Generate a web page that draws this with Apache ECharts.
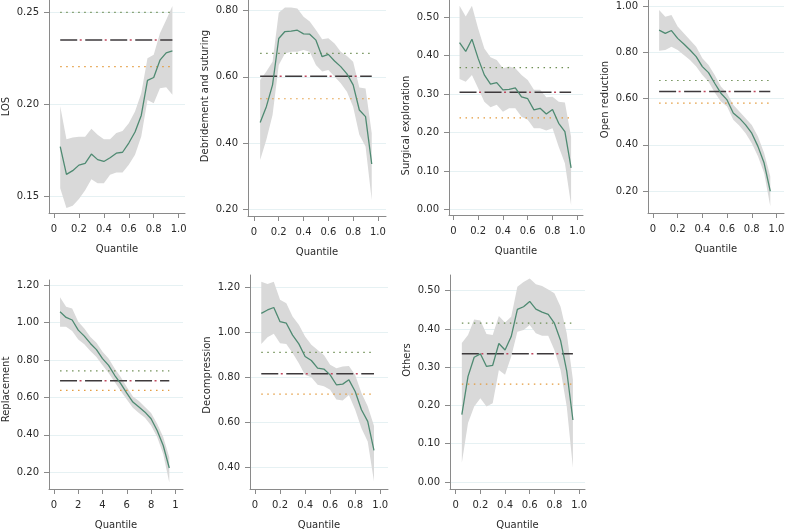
<!DOCTYPE html>
<html><head><meta charset="utf-8">
<script src="https://cdn.jsdelivr.net/npm/echarts@6/dist/echarts.min.js"></script>
<style>html,body{margin:0;padding:0;background:#fff}#c{width:788px;height:531px}</style>
</head><body><div id="c"></div>
<script>
// ---------- DATA ----------
const quantiles = [0.05,0.10,0.15,0.20,0.25,0.30,0.35,0.40,0.45,0.50,0.55,0.60,0.65,0.70,0.75,0.80,0.85,0.90,0.95];
const xTicks = [0,0.2,0.4,0.6,0.8,1.0];
const xTickLabels = ['0','0.2','0.4','0.6','0.8','1.0'];
const xTickLabelsReplacement = ['0','2','4','6','8','1'];
const panelNames = ['LOS','Debridement and suturing','Surgical exploration','Open reduction','Replacement','Decompression','Others'];

const losEst = [0.177,0.162,0.164,0.167,0.168,0.173,0.170,0.169,0.171,0.1735,0.174,0.179,0.185,0.194,0.213,0.2146,0.224,0.228,0.229];
const losHi  = [0.199,0.181,0.182,0.1824,0.1824,0.1867,0.1835,0.1811,0.1811,0.1844,0.1856,0.1898,0.1961,0.2061,0.225,0.2269,0.2386,0.2458,0.2534];
const losLo  = [0.1545,0.1437,0.1449,0.1486,0.1533,0.1594,0.1572,0.1572,0.1618,0.163,0.163,0.1672,0.1726,0.1825,0.2024,0.2006,0.2088,0.2093,0.2052];
const losRef = [0.250,0.235,0.2205];
const losTicks = [0.15,0.20,0.25];

const debEst = [0.462,0.51,0.576,0.716,0.737,0.738,0.741,0.73,0.729,0.711,0.661,0.668,0.648,0.631,0.609,0.576,0.50,0.48,0.337];
const debHi  = [0.591,0.616,0.646,0.794,0.81,0.81,0.807,0.782,0.767,0.742,0.714,0.717,0.701,0.676,0.663,0.646,0.568,0.565,0.43];
const debLo  = [0.349,0.41,0.485,0.636,0.671,0.676,0.676,0.681,0.676,0.636,0.616,0.621,0.601,0.581,0.555,0.51,0.425,0.39,0.228];
const debRef = [0.671,0.602,0.534];
const debTicks = [0.20,0.40,0.60,0.80];

const surEst = [0.434,0.411,0.443,0.393,0.35,0.326,0.33,0.311,0.3125,0.316,0.293,0.288,0.259,0.263,0.248,0.26,0.224,0.202,0.108];
const surHi  = [0.53,0.502,0.53,0.471,0.419,0.396,0.389,0.367,0.372,0.367,0.35,0.337,0.311,0.311,0.292,0.293,0.28,0.278,0.189];
const surLo  = [0.339,0.332,0.35,0.315,0.28,0.266,0.272,0.254,0.263,0.263,0.241,0.233,0.211,0.211,0.205,0.211,0.163,0.12,0.011];
const surRef = [0.369,0.305,0.238];
const surTicks = [0.00,0.10,0.20,0.30,0.40,0.50];

const opnEst = [0.896,0.882,0.894,0.86,0.836,0.81,0.781,0.738,0.712,0.666,0.623,0.594,0.537,0.515,0.486,0.45,0.393,0.321,0.199];
const opnHi  = [0.983,0.954,0.961,0.911,0.882,0.853,0.824,0.774,0.745,0.702,0.652,0.623,0.573,0.544,0.515,0.486,0.436,0.364,0.263];
const opnLo  = [0.807,0.81,0.824,0.81,0.788,0.767,0.738,0.702,0.673,0.626,0.587,0.565,0.508,0.482,0.45,0.407,0.35,0.278,0.134];
const opnRef = [0.678,0.630,0.580];
const opnTicks = [0.20,0.40,0.60,0.80,1.00];

const repEst = [1.057,1.027,1.013,0.959,0.927,0.888,0.855,0.807,0.771,0.718,0.673,0.623,0.575,0.548,0.521,0.486,0.423,0.343,0.223];
const repHi  = [1.134,1.084,1.075,1.004,0.968,0.923,0.891,0.843,0.807,0.754,0.709,0.655,0.605,0.58,0.548,0.516,0.459,0.388,0.28];
const repLo  = [0.977,0.977,0.955,0.909,0.884,0.848,0.816,0.771,0.73,0.682,0.634,0.588,0.545,0.516,0.491,0.45,0.388,0.298,0.146];
const repRef = [0.741,0.689,0.6375];
const repTicks = [0.20,0.40,0.60,0.80,1.00,1.20];

const decEst = [1.084,1.099,1.110,1.047,1.04,0.987,0.948,0.892,0.874,0.84,0.836,0.81,0.766,0.769,0.788,0.736,0.655,0.603,0.474];
const decHi  = [1.225,1.215,1.225,1.144,1.129,1.07,1.033,0.981,0.944,0.921,0.899,0.855,0.84,0.847,0.85,0.81,0.729,0.67,0.584];
const decLo  = [0.948,0.978,0.993,0.951,0.948,0.907,0.862,0.81,0.80,0.766,0.759,0.744,0.70,0.696,0.721,0.655,0.573,0.514,0.336];
const decRef = [0.910,0.815,0.724];
const decTicks = [0.40,0.60,0.80,1.00,1.20];

const othEst = [0.176,0.276,0.326,0.335,0.302,0.305,0.362,0.345,0.380,0.451,0.458,0.472,0.452,0.444,0.438,0.415,0.370,0.290,0.162];
const othHi  = [0.363,0.384,0.425,0.422,0.387,0.384,0.434,0.417,0.432,0.51,0.523,0.532,0.517,0.512,0.503,0.493,0.458,0.389,0.267];
const othLo  = [0.05,0.154,0.197,0.219,0.197,0.206,0.293,0.28,0.328,0.393,0.397,0.41,0.389,0.382,0.382,0.345,0.293,0.197,0.037];
const othRef = [0.415,0.335,0.256];
const othTicks = [0.00,0.10,0.20,0.30,0.40,0.50];

// ---------- LAYOUT ----------
// nameShift: vertical shift of the y-axis title (positive = up)
const panels = [
  {est:losEst,hi:losHi,lo:losLo,ref:losRef,yt:losTicks,xl:xTickLabels,nameShift:0,
   g:{left:49,top:0,width:136,height:213}, y:[0.141,0.2567], x:[-0.040,1.051]},
  {est:debEst,hi:debHi,lo:debLo,ref:debRef,yt:debTicks,xl:xTickLabels,nameShift:12,
   g:{left:248,top:0,width:138,height:216}, y:[0.1798,0.8323], x:[-0.048,1.065]},
  {est:surEst,hi:surHi,lo:surLo,ref:surRef,yt:surTicks,xl:xTickLabels,nameShift:-18,
   g:{left:449,top:0,width:134,height:215}, y:[-0.0148,0.545], x:[-0.035,1.046]},
  {est:opnEst,hi:opnHi,lo:opnLo,ref:opnRef,yt:opnTicks,xl:xTickLabels,nameShift:7,
   g:{left:648,top:0,width:136,height:213}, y:[0.105,1.026], x:[-0.040,1.061]},
  {est:repEst,hi:repHi,lo:repLo,ref:repRef,yt:repTicks,xl:xTickLabelsReplacement,nameShift:-5,
   g:{left:49,top:280,width:134,height:209}, y:[0.1107,1.2267], x:[-0.041,1.063]},
  {est:decEst,hi:decHi,lo:decLo,ref:decRef,yt:decTicks,xl:xTickLabels,nameShift:7,
   g:{left:250,top:275,width:138,height:214}, y:[0.302,1.2547], x:[-0.040,1.062]},
  {est:othEst,hi:othHi,lo:othLo,ref:othRef,yt:othTicks,xl:xTickLabels,nameShift:22,
   g:{left:450,top:275,width:135,height:214}, y:[-0.0183,0.541], x:[-0.046,1.048]}
];

const FONT = 'DejaVu Sans';
const TXT = '#2a2a2a';
const AX = '#8a8a8a';
const grids = [], xAxes = [], yAxes = [], series = [];

panels.forEach((p, i) => {
  grids.push(Object.assign({containLabel:false}, p.g));
  const labs = p.xl;
  xAxes.push({
    type:'value', gridIndex:i, min:p.x[0], max:p.x[1],
    name:'Quantile', nameLocation:'middle', nameGap:31,
    nameTextStyle:{fontFamily:FONT,fontSize:10,color:TXT},
    axisLine:{show:true,onZero:false,lineStyle:{color:AX,width:1}},
    axisTick:{show:true,length:5,lineStyle:{color:AX},customValues:xTicks},
    axisLabel:{fontFamily:FONT,fontSize:10,color:TXT,margin:11,customValues:xTicks,
      formatter:(v)=>{const k=xTicks.findIndex(t=>Math.abs(t-v)<1e-6);return k>=0?labs[k]:'';}},
    splitLine:{show:false}
  });
  const yt = p.yt;
  const s = p.nameShift;
  yAxes.push({
    type:'value', gridIndex:i, min:p.y[0], max:p.y[1],
    name:panelNames[i], nameLocation:'middle', nameGap:38,
    nameTextStyle:{fontFamily:FONT,fontSize:10,color:TXT,
      padding: s>=0 ? [0,0,0,2*s] : [0,-2*s,0,0]},
    axisLine:{show:true,onZero:false,lineStyle:{color:AX,width:1}},
    axisTick:{show:true,length:5,lineStyle:{color:AX},customValues:yt},
    axisLabel:{fontFamily:FONT,fontSize:10,color:TXT,margin:10,customValues:yt,
      formatter:(v)=>v.toFixed(2)},
    splitLine:{show:true,lineStyle:{color:'#e6f1f3',width:1}}
  });
  const bandData = quantiles.map((q,k)=>[q,p.lo[k],p.hi[k]]);
  series.push({
    type:'custom', xAxisIndex:i, yAxisIndex:i, data:bandData, silent:true, z:1,
    renderItem:(params, api)=>{
      if (params.dataIndex !== 0) return null;
      const up = bandData.map(d=>api.coord([d[0],d[2]]));
      const dn = bandData.map(d=>api.coord([d[0],d[1]])).reverse();
      return {type:'polygon', shape:{points:up.concat(dn)}, style:{fill:'#d9d9d9',stroke:null}};
    }
  });
  series.push({
    type:'line', xAxisIndex:i, yAxisIndex:i, z:5, symbol:'none', silent:true,
    data:quantiles.map((q,k)=>[q,p.est[k]]),
    lineStyle:{color:'#4f8a72',width:1.3}
  });
  const x0 = quantiles[0], x1 = quantiles[quantiles.length-1];
  series.push({type:'line',xAxisIndex:i,yAxisIndex:i,z:4,symbol:'none',silent:true,
    data:[[x0,p.ref[0]],[x1,p.ref[0]]], lineStyle:{color:'#6f8f55',width:1.2,type:[1.5,4.5]}});
  series.push({type:'line',xAxisIndex:i,yAxisIndex:i,z:4,symbol:'none',silent:true,
    data:[[x0,p.ref[1]],[x1,p.ref[1]]], lineStyle:{color:'#3e3a3c',width:1.5,type:[17,8]}});
  series.push({type:'line',xAxisIndex:i,yAxisIndex:i,z:4,symbol:'none',silent:true,
    data:[[x0,p.ref[1]],[x1,p.ref[1]]], lineStyle:{color:'#c0485e',width:1.5,type:[2,23],dashOffset:-19.5}});
  series.push({type:'line',xAxisIndex:i,yAxisIndex:i,z:4,symbol:'none',silent:true,
    data:[[x0,p.ref[2]],[x1,p.ref[2]]], lineStyle:{color:'#e39a3c',width:1.2,type:[1.5,4.5]}});
});

const chart = echarts.init(document.getElementById('c'), null, {renderer:'canvas'});
chart.setOption({
  animation:false, backgroundColor:'#fff',
  grid:grids, xAxis:xAxes, yAxis:yAxes, series:series
});
</script></body></html>
